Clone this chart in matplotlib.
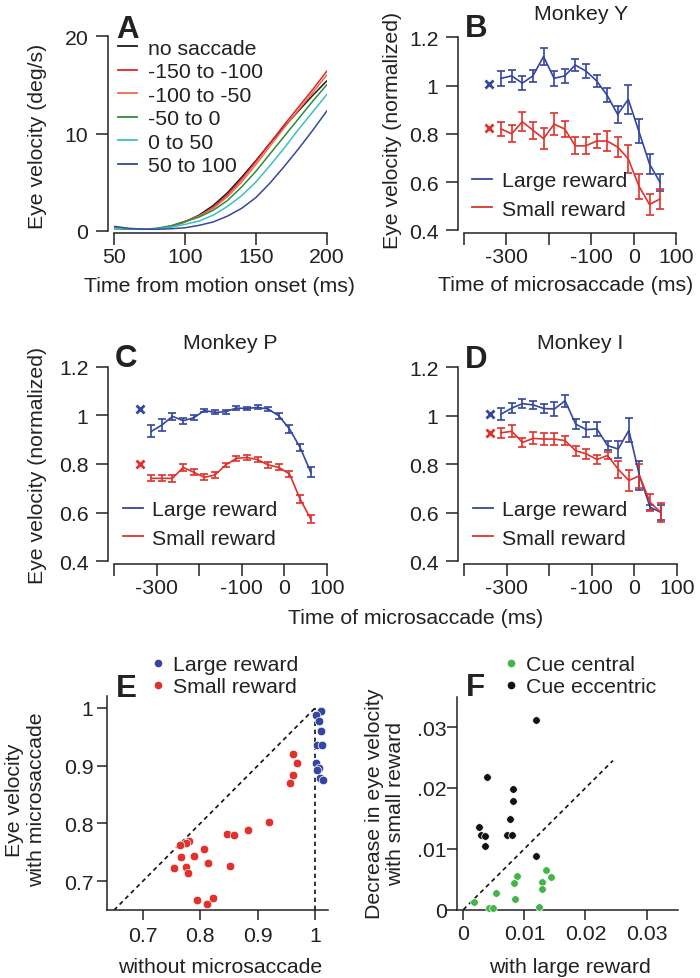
import matplotlib
matplotlib.use("Agg")
import matplotlib.pyplot as plt
from matplotlib.lines import Line2D

plt.rcParams['font.family'] = ['Liberation Sans', 'DejaVu Sans']
plt.rcParams['font.size'] = 15.3

# ---------------- data ----------------
# panel A: eye velocity vs time from motion onset, by microsaccade timing
t_onset = [50, 60, 70, 80, 90, 100, 110, 120, 130, 140, 150, 160, 170, 180, 190, 200]
vel_nosac = [0.30, 0.20, 0.15, 0.20, 0.40, 0.90, 1.6, 2.6, 3.9, 5.5, 7.2, 9.0, 10.7, 12.3, 13.9, 15.4]
vel_m150 = [0.25, 0.20, 0.15, 0.20, 0.45, 0.95, 1.5, 2.4, 3.7, 5.3, 7.1, 9.0, 10.9, 12.7, 14.5, 16.4]
vel_m100 = [0.25, 0.20, 0.15, 0.20, 0.45, 0.90, 1.5, 2.3, 3.5, 5.0, 6.8, 8.7, 10.6, 12.4, 14.2, 16.0]
vel_m50 = [0.20, 0.15, 0.15, 0.25, 0.50, 0.95, 1.4, 2.1, 3.1, 4.5, 6.1, 7.9, 9.7, 11.5, 13.3, 15.0]
vel_p0 = [0.25, 0.20, 0.15, 0.20, 0.35, 0.65, 1.0, 1.6, 2.5, 3.6, 5.0, 6.7, 8.5, 10.4, 12.2, 14.0]
vel_p50 = [0.45, 0.25, 0.15, 0.15, 0.20, 0.30, 0.55, 0.9, 1.5, 2.3, 3.4, 4.9, 6.6, 8.4, 10.3, 12.3]
a_labels = ["no saccade", "-150 to -100", "-100 to -50", "-50 to 0", "0 to 50", "50 to 100"]
a_colors = ["#1a1a1a", "#e0262a", "#ef6a4c", "#2f8a3e", "#3dbfc0", "#3547a0"]

# panels B-D: normalized eye velocity vs time of microsaccade
t_sac = [-312.5, -287.5, -262.5, -237.5, -212.5, -187.5, -162.5, -137.5,
         -112.5, -87.5, -62.5, -37.5, -12.5, 12.5, 37.5, 62.5]
t_nosac = -340

y_large = [1.03, 1.04, 1.01, 1.04, 1.12, 1.03, 1.04, 1.085, 1.06, 1.02, 0.96, 0.88, 0.943, 0.81, 0.675, 0.598]
y_large_err = [0.03, 0.025, 0.03, 0.025, 0.035, 0.03, 0.03, 0.025, 0.03, 0.025, 0.03, 0.035, 0.06, 0.05, 0.04, 0.035]
y_small = [0.82, 0.80, 0.85, 0.815, 0.78, 0.84, 0.82, 0.75, 0.75, 0.77, 0.77, 0.745, 0.696, 0.583, 0.507, 0.53]
y_small_err = [0.03, 0.035, 0.04, 0.035, 0.045, 0.045, 0.035, 0.035, 0.035, 0.03, 0.04, 0.04, 0.058, 0.052, 0.045, 0.04]
y_nosac = [1.006, 0.825]

p_large = [0.934, 0.96, 0.996, 0.978, 0.99, 1.02, 1.012, 1.015, 1.03, 1.028, 1.033, 1.026, 0.998, 0.944, 0.868, 0.766]
p_large_err = [0.025, 0.025, 0.015, 0.012, 0.01, 0.008, 0.008, 0.008, 0.008, 0.008, 0.008, 0.008, 0.012, 0.015, 0.015, 0.02]
p_small = [0.741, 0.741, 0.741, 0.786, 0.766, 0.745, 0.755, 0.796, 0.823, 0.827, 0.818, 0.796, 0.786, 0.759, 0.656, 0.574]
p_small_err = [0.012, 0.012, 0.015, 0.015, 0.012, 0.012, 0.012, 0.01, 0.01, 0.01, 0.01, 0.012, 0.012, 0.012, 0.015, 0.015]
p_nosac = [1.026, 0.80]

i_large = [1.007, 1.032, 1.05, 1.045, 1.03, 1.028, 1.062, 0.966, 0.943, 0.946, 0.877, 0.863, 0.94, 0.753, 0.623, 0.602]
i_large_err = [0.025, 0.02, 0.018, 0.018, 0.018, 0.03, 0.025, 0.02, 0.03, 0.03, 0.02, 0.035, 0.05, 0.06, 0.01, 0.03]
i_small = [0.93, 0.936, 0.89, 0.907, 0.904, 0.904, 0.898, 0.856, 0.843, 0.82, 0.836, 0.78, 0.733, 0.753, 0.643, 0.602]
i_small_err = [0.02, 0.025, 0.02, 0.025, 0.025, 0.025, 0.02, 0.02, 0.02, 0.02, 0.015, 0.035, 0.045, 0.05, 0.035, 0.04]
i_nosac = [1.007, 0.928]

# panel E: eye velocity with vs without microsaccade
e_large_without = [1.010, 1.002, 1.006, 1.010, 1.003, 1.011, 1.002, 1.007, 1.003, 1.009, 1.014]
e_large_with = [0.994, 0.987, 0.977, 0.960, 0.935, 0.935, 0.905, 0.896, 0.892, 0.879, 0.876]
e_small_without = [0.962, 0.969, 0.961, 0.957, 0.919, 0.883, 0.846, 0.858, 0.780, 0.775, 0.765,
                   0.807, 0.767, 0.790, 0.813, 0.852, 0.754, 0.775, 0.779, 0.795, 0.812, 0.822]
e_small_with = [0.920, 0.905, 0.884, 0.870, 0.803, 0.788, 0.781, 0.780, 0.770, 0.766, 0.763,
                0.756, 0.742, 0.744, 0.731, 0.726, 0.723, 0.725, 0.714, 0.667, 0.660, 0.671]

# panel F: decrease in eye velocity, small vs large reward
f_ecc_large = [0.01185, 0.00388, 0.00808, 0.00808, 0.00764, 0.00252, 0.00285, 0.0035, 0.0071, 0.0079, 0.0036, 0.01185]
f_ecc_small = [0.0311, 0.02188, 0.01985, 0.01793, 0.01497, 0.0136, 0.01229, 0.0121, 0.01229, 0.01229, 0.01043, 0.00888]
f_cen_large = [0.01354, 0.0143, 0.00874, 0.0083, 0.0129, 0.01283, 0.00535, 0.00846, 0.0018, 0.00426, 0.00491, 0.01244]
f_cen_small = [0.00653, 0.00533, 0.00559, 0.00439, 0.0045, 0.0034, 0.0027, 0.00176, 0.00121, 0.00033, 0.00023, 0.00049]

BLUE = "#3446a0"
RED = "#e0312c"
GREEN = "#45b24a"
BLACK = "#111111"
TXT = "#222222"

W, H = 700, 979
fig = plt.figure(figsize=(W / 100, H / 100), dpi=100)


def box(l, t, r, b):
    return [l / W, 1 - b / H, (r - l) / W, (b - t) / H]


def fxy(x, y):
    return (x / W, 1 - y / H)


def ftext(x, y, s, **kw):
    kw.setdefault('color', TXT)
    fig.text(x / W, 1 - y / H, s, **kw)


def style(ax, offset=True, tlen=8.4, xpad=1.5, ypad=6):
    for s in ['top', 'right']:
        ax.spines[s].set_visible(False)
    for s in ['left', 'bottom']:
        ax.spines[s].set_linewidth(1.1)
        ax.spines[s].set_color(TXT)
    if offset:
        ax.spines['left'].set_position(('outward', 4))
        ax.spines['bottom'].set_position(('outward', 2))
    ax.tick_params(direction='out', length=tlen, width=1.1, colors=TXT, labelsize=15.3)
    ax.tick_params(axis='x', pad=xpad)
    ax.tick_params(axis='y', pad=ypad)
    ax.patch.set_alpha(0)


def legend_at(ax, handles, labels, x, y, **kw):
    leg = ax.legend(handles, labels, loc='upper left', bbox_to_anchor=fxy(x, y),
                    bbox_transform=fig.transFigure, frameon=False, borderpad=0,
                    borderaxespad=0, fontsize=15.3, **kw)
    for t in leg.get_texts():
        t.set_color(TXT)
    return leg


# ---------------- panel A ----------------
axA = fig.add_axes(box(114, 37.3, 326.7, 231.7))
series_a = [vel_nosac, vel_m150, vel_m100, vel_m50, vel_p0, vel_p50]
for vals, c in zip(series_a, a_colors):
    axA.plot(t_onset, vals, color=c, lw=1.1)
axA.set_xlim(50, 200)
axA.set_ylim(0, 20)
axA.set_xticks([50, 100, 150, 200])
axA.set_yticks([0, 10, 20])
style(axA)
legend_at(axA, [Line2D([], [], color=c, lw=1.3) for c in a_colors], a_labels, 118, 39.8,
          handlelength=0.9, handletextpad=0.52, labelspacing=0.21)
ftext(37.5, 136, "Eye velocity (deg/s)", rotation=90, ha='center', va='center')
ftext(220, 292.5, "Time from motion onset (ms)", ha='center', va='baseline')
ftext(116.5, 38.3, "A", fontsize=22.5, fontweight='bold', ha='left', va='baseline')


# ---------------- panels B-D ----------------
def reward_panel(rect, large, large_err, small, small_err, nosac):
    ax = fig.add_axes(rect)
    ax.errorbar(t_sac, large, yerr=large_err, color=BLUE, lw=1.2, capsize=3, capthick=1.2)
    ax.errorbar(t_sac, small, yerr=small_err, color=RED, lw=1.2, capsize=3, capthick=1.2)
    ax.plot([t_nosac], [nosac[0]], 'x', color=BLUE, ms=5.5, mew=2)
    ax.plot([t_nosac], [nosac[1]], 'x', color=RED, ms=5.5, mew=2)
    ax.set_xlim(-400, 100)
    ax.set_ylim(0.4, 1.2)
    ax.set_xticks([-400, -300, -200, -100, 0, 100])
    ax.set_xticklabels(['', '-300', '', '-100', '0', '100'])
    ax.set_yticks([0.4, 0.6, 0.8, 1.0, 1.2])
    ax.set_yticklabels(['0.4', '0.6', '0.8', '1', '1.2'])
    style(ax)
    return ax


reward_handles = [Line2D([], [], color=BLUE, lw=1.3), Line2D([], [], color=RED, lw=1.3)]
reward_labels = ["Large reward", "Small reward"]

axB = reward_panel(box(464, 38.3, 676, 231.3), y_large, y_large_err, y_small, y_small_err, y_nosac)
legend_at(axB, reward_handles, reward_labels, 471.7, 172,
          handlelength=0.94, handletextpad=0.47, labelspacing=0.45)
ftext(393, 130.5, "Eye velocity (normalized)", rotation=90, ha='center', va='center')
ftext(566, 290.7, "Time of microsaccade (ms)", ha='center', va='baseline')
ftext(581, 20, "Monkey Y", ha='center', va='baseline')
ftext(465, 36.7, "B", fontsize=22.5, fontweight='bold', ha='left', va='baseline')

axC = reward_panel(box(114, 367.7, 326.7, 562.3), p_large, p_large_err, p_small, p_small_err, p_nosac)
legend_at(axC, reward_handles, reward_labels, 123, 501,
          handlelength=0.94, handletextpad=0.41, labelspacing=0.45)
ftext(37.5, 465, "Eye velocity (normalized)", rotation=90, ha='center', va='center')
ftext(230, 349, "Monkey P", ha='center', va='baseline')
ftext(115, 366.7, "C", fontsize=22.5, fontweight='bold', ha='left', va='baseline')

axD = reward_panel(box(464, 368.3, 676.7, 562.3), i_large, i_large_err, i_small, i_small_err, i_nosac)
legend_at(axD, reward_handles, reward_labels, 473, 501,
          handlelength=0.94, handletextpad=0.41, labelspacing=0.45)
ftext(580.5, 349.3, "Monkey I", ha='center', va='baseline')
ftext(465, 368.3, "D", fontsize=22.5, fontweight='bold', ha='left', va='baseline')

ftext(416, 624, "Time of microsaccade (ms)", ha='center', va='baseline')

# ---------------- panel E ----------------
axE = fig.add_axes(box(107.3, 696.7, 328.3, 911.3))
axE.plot([0.65, 1.0], [0.65, 1.0], ls='--', color=BLACK, lw=1.2, dashes=(2.6, 2.2), zorder=1)
axE.plot([1.0, 1.0], [0.65, 1.0], ls='--', color=BLACK, lw=1.2, dashes=(2.6, 2.2), zorder=1)
axE.scatter(e_small_without, e_small_with, s=38, color=RED, edgecolor='white', lw=0.5, zorder=3, clip_on=False)
axE.scatter(e_large_without, e_large_with, s=38, color=BLUE, edgecolor='white', lw=0.5, zorder=3, clip_on=False)
axE.set_xlim(0.6384, 1.0228)
axE.set_ylim(0.6498, 1.0211)
axE.set_xticks([0.7, 0.8, 0.9, 1.0])
axE.set_xticklabels(['0.7', '0.8', '0.9', '1'])
axE.set_yticks([0.7, 0.8, 0.9, 1.0])
axE.set_yticklabels(['0.7', '0.8', '0.9', '1'])
style(axE, offset=False, tlen=7, xpad=4, ypad=3)
dot_handles = [Line2D([], [], marker='o', ls='none', color=BLUE, ms=4.5),
               Line2D([], [], marker='o', ls='none', color=RED, ms=4.5)]
legend_at(axE, dot_handles, reward_labels, 152, 656,
          handlelength=0.6, handletextpad=0.4, labelspacing=0.14)
ftext(25.5, 800, "Eye velocity\nwith microsaccade", rotation=90, ha='center', va='center',
      multialignment='center')
ftext(220, 973.3, "without microsaccade", ha='center', va='baseline')
ftext(115.5, 696.7, "E", fontsize=22.5, fontweight='bold', ha='left', va='baseline')

# ---------------- panel F ----------------
axF = fig.add_axes(box(457.3, 698.3, 678.3, 910.7))
axF.plot([0, 0.0245], [0, 0.0245], ls='--', color=BLACK, lw=1.2, dashes=(2.6, 2.2), zorder=1)
axF.scatter(f_cen_large, f_cen_small, s=30, color=GREEN, edgecolor='white', lw=0.5, zorder=3, clip_on=False)
axF.scatter(f_ecc_large, f_ecc_small, s=30, color=BLACK, edgecolor='white', lw=0.5, zorder=3, clip_on=False)
axF.set_xlim(-0.00098, 0.0352)
axF.set_ylim(0, 0.0349)
axF.set_xticks([0, 0.01, 0.02, 0.03])
axF.set_xticklabels(['0', '0.01', '0.02', '0.03'])
axF.set_yticks([0, 0.01, 0.02, 0.03])
axF.set_yticklabels(['0', '.01', '.02', '.03'])
style(axF, offset=False, tlen=7, xpad=3, ypad=0.5)
cue_handles = [Line2D([], [], marker='o', ls='none', color=GREEN, ms=4.5),
               Line2D([], [], marker='o', ls='none', color=BLACK, ms=4.5)]
legend_at(axF, cue_handles, ["Cue central", "Cue eccentric"], 504.6, 656,
          handlelength=0.6, handletextpad=0.4, labelspacing=0.14)
ftext(385, 804, "Decrease in eye velocity\nwith small reward", rotation=90, ha='center',
      va='center', multialignment='center')
ftext(570, 973.3, "with large reward", ha='center', va='baseline')
ftext(465.5, 696, "F", fontsize=22.5, fontweight='bold', ha='left', va='baseline')

fig.savefig("out.png", dpi=100)
